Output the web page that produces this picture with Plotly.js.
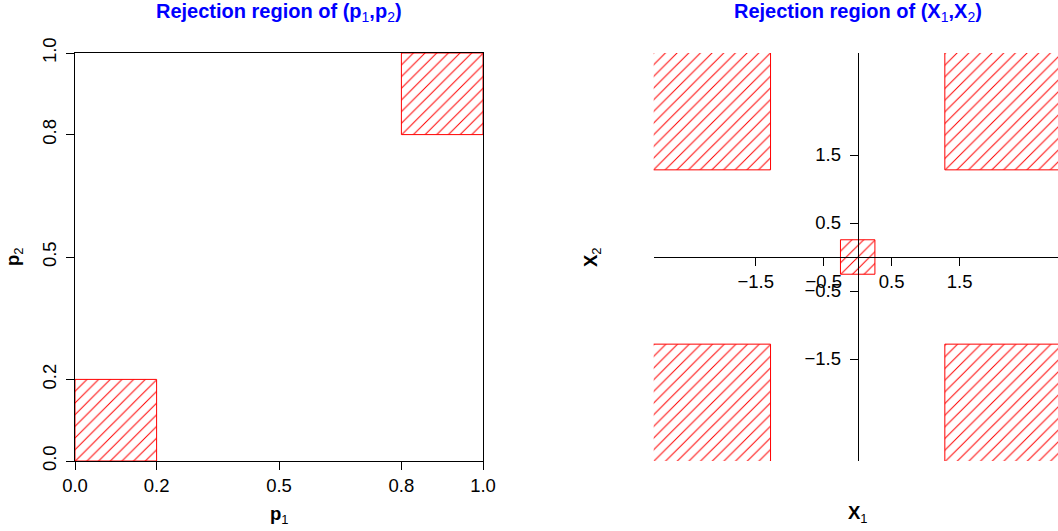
<!DOCTYPE html>
<html>
<head>
<meta charset="utf-8">
<script src="https://cdn.plot.ly/plotly-3.0.1.min.js"></script>
<style>html,body{margin:0;padding:0;background:#fff}#chart{width:1058px;height:531px}</style>
</head>
<body>
<div id="chart"></div>
<script>
// ---- data ----
const pTicks = [0, 0.2, 0.5, 0.8, 1.0];
const pRegionX0 = [0.0, 0.8];
const pRegionX1 = [0.2, 1.0];
const pRegionY0 = [0.0, 0.8];
const pRegionY1 = [0.2, 1.0];

const zTicks = [-1.5, -0.5, 0.5, 1.5];
const zRegionX0 = [-4, 1.2816, -4, 1.2816, -0.2533];
const zRegionX1 = [-1.2816, 4, -1.2816, 4, 0.2533];
const zRegionY0 = [1.2816, 1.2816, -4, -4, -0.2533];
const zRegionY1 = [4, 4, -1.2816, -1.2816, 0.2533];

const W = 1058, H = 531;
const FONT = 'Liberation Sans, Arial, sans-serif';

function rectTrace(x0, x1, y0, y1, xa, ya) {
  return {
    type: 'scatter', mode: 'lines', xaxis: xa, yaxis: ya,
    x: [x0, x1, x1, x0, x0], y: [y0, y0, y1, y1, y0],
    fill: 'toself', fillcolor: 'rgba(0,0,0,0)',
    fillpattern: {shape: '/', size: 8.25, solidity: 0.12, fgcolor: '#ff0000', bgcolor: 'rgba(0,0,0,0)', fgopacity: 1},
    line: {color: '#ff0000', width: 1},
    hoverinfo: 'skip', showlegend: false
  };
}

const traces = [];
for (let i = 0; i < pRegionX0.length; i++) traces.push(rectTrace(pRegionX0[i], pRegionX1[i], pRegionY0[i], pRegionY1[i], 'x', 'y'));
for (let i = 0; i < zRegionX0.length; i++) traces.push(rectTrace(zRegionX0[i], zRegionX1[i], zRegionY0[i], zRegionY1[i], 'x2', 'y2'));

// geometry (pixels -> paper)
const pxL = 75, pxR = 483, pyT = 53, pyB = 461;
const zxL = 653.7, zxR = 1058, zyT = 53, zyB = 461;
const zXRange = [-3, 2.946];
const zYRange = [-3, 3];
const zxZero = (zxL + (0 - zXRange[0]) / (zXRange[1] - zXRange[0]) * (zxR - zxL)) / W;
const zyZero = 1 - (zyB - (0 - zYRange[0]) / (zYRange[1] - zYRange[0]) * (zyB - zyT)) / H;

const TS = 18.5;
const tickFont = {family: FONT, size: TS, color: '#000'};
const axBase = {showgrid: false, zeroline: false, ticks: 'outside', ticklen: 8, tickwidth: 1, tickcolor: '#000', linecolor: '#000', linewidth: 1, tickfont: tickFont, fixedrange: true};

const layout = {
  width: W, height: H,
  margin: {l: 0, r: 0, t: 0, b: 0},
  paper_bgcolor: '#fff', plot_bgcolor: 'rgba(0,0,0,0)',
  showlegend: false,
  xaxis: Object.assign({}, axBase, {
    domain: [pxL / W, pxR / W], range: [0, 1], anchor: 'y',
    tickvals: pTicks, tickformat: '.1f', showline: true, mirror: true, ticklabelstandoff: 0
  }),
  yaxis: Object.assign({}, axBase, {
    domain: [1 - pyB / H, 1 - pyT / H], range: [0, 1], anchor: 'x',
    tickvals: pTicks, tickformat: '.1f', tickangle: -90, showline: true, mirror: true, ticklabelstandoff: 3
  }),
  xaxis2: Object.assign({}, axBase, {
    domain: [zxL / W, zxR / W], range: zXRange, anchor: 'free', position: zyZero,
    tickvals: zTicks, tickformat: '.1f', showline: true, ticklabelstandoff: 0
  }),
  yaxis2: Object.assign({}, axBase, {
    domain: [1 - zyB / H, 1 - zyT / H], range: zYRange, anchor: 'free', position: zxZero,
    tickvals: zTicks, tickformat: '.1f', showline: true, ticklabelstandoff: 5
  }),
  annotations: [
    {text: '<b>Rejection region of (p</b><sub>1</sub><b>,p</b><sub>2</sub><b>)</b>', xref: 'paper', yref: 'paper',
     x: (pxL + pxR) / 2 / W, y: 1 - 12 / H, xanchor: 'center', yanchor: 'middle', showarrow: false,
     font: {family: FONT, size: 20, color: '#0000ff'}},
    {text: '<b>Rejection region of (X</b><sub>1</sub><b>,X</b><sub>2</sub><b>)</b>', xref: 'paper', yref: 'paper',
     x: 857.7 / W, y: 1 - 12 / H, xanchor: 'center', yanchor: 'middle', showarrow: false,
     font: {family: FONT, size: 20, color: '#0000ff'}},
    {text: '<b>p</b><sub>1</sub>', xref: 'paper', yref: 'paper', x: (pxL + pxR) / 2 / W, y: 1 - 515 / H,
     xanchor: 'center', yanchor: 'middle', showarrow: false, font: {family: FONT, size: TS, color: '#000'}},
    {text: '<b>p</b><sub>2</sub>', xref: 'paper', yref: 'paper', x: 14 / W, y: 1 - 257 / H, textangle: -90,
     xanchor: 'center', yanchor: 'middle', showarrow: false, font: {family: FONT, size: TS, color: '#000'}},
    {text: '<b>X</b><sub>1</sub>', xref: 'paper', yref: 'paper', x: 857.7 / W, y: 1 - 514 / H,
     xanchor: 'center', yanchor: 'middle', showarrow: false, font: {family: FONT, size: TS, color: '#000'}},
    {text: '<b>X</b><sub>2</sub>', xref: 'paper', yref: 'paper', x: 592 / W, y: 1 - 257 / H, textangle: -90,
     xanchor: 'center', yanchor: 'middle', showarrow: false, font: {family: FONT, size: TS, color: '#000'}}
  ]
};

Plotly.newPlot('chart', traces, layout, {staticPlot: true, displayModeBar: false});
</script>
</body>
</html>
